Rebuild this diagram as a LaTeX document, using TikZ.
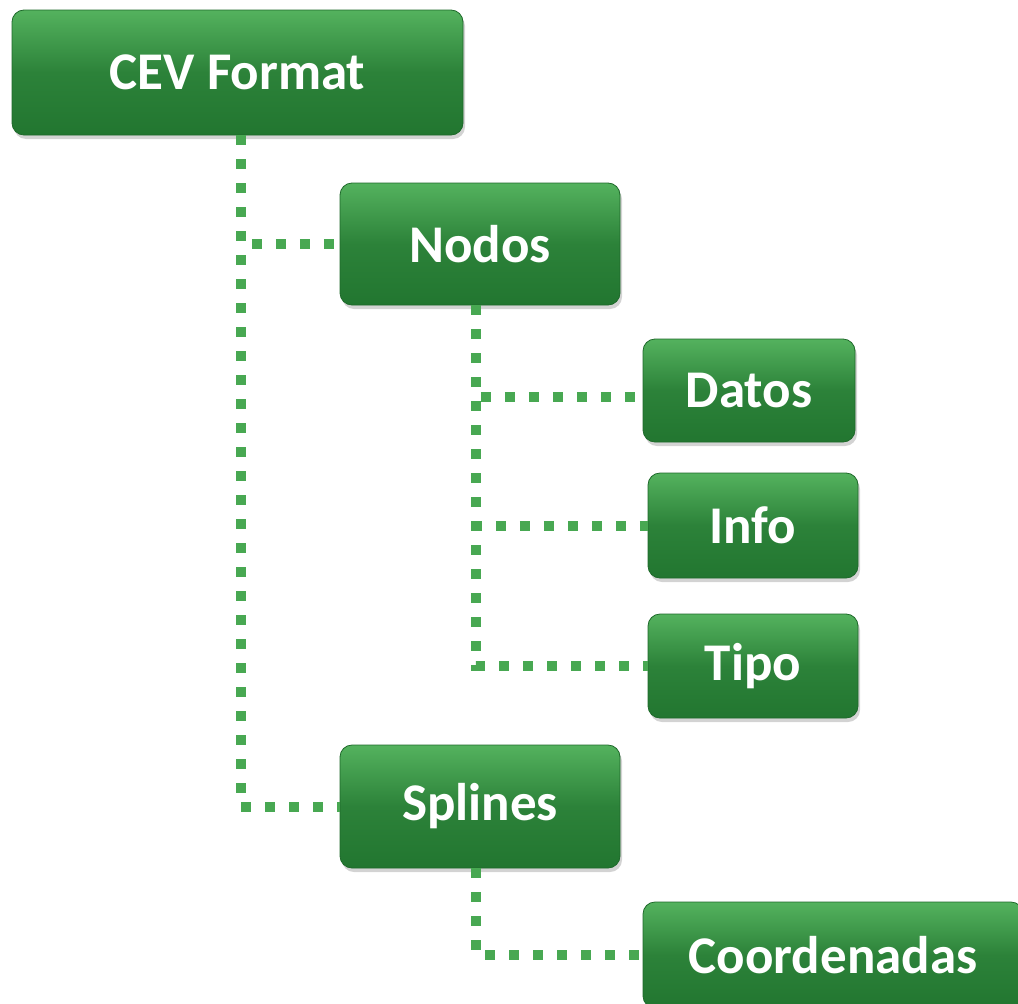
\documentclass[tikz,border=0pt]{standalone}
\usepackage{fontspec}
\setmainfont{Carlito}
\usetikzlibrary{shadows}
\definecolor{linkgreen}{RGB}{72,168,82}
\definecolor{boxtop}{RGB}{84,178,94}
\definecolor{boxbot}{RGB}{34,118,48}
\definecolor{boxedge}{RGB}{30,105,42}
\tikzset{
  tbox/.style={draw=boxedge, line width=0.8pt, rounded corners=12pt,
    top color=boxtop, bottom color=boxbot, middle color=boxbot!80!boxtop,
    drop shadow={opacity=0.35, shadow xshift=2pt, shadow yshift=-4pt},
    text=white, font=\fontsize{53}{58}\selectfont\bfseries, inner sep=0pt},
  conn/.style={draw=linkgreen, line width=10pt, dash pattern=on 10pt off 14pt}
}
\begin{document}
\begin{tikzpicture}[x=1pt, y=-1pt]
\useasboundingbox (0,0) rectangle (1018,1004);
% tree boxes
\node[tbox, minimum width=451pt, minimum height=125pt] (cev) at (237.5,72.5) {CEV Format};
\node[tbox, minimum width=280pt, minimum height=122pt] (nodos) at (480,244) {Nodos};
\node[tbox, minimum width=212pt, minimum height=103pt] (datos) at (749,390.5) {Datos};
\node[tbox, minimum width=210pt, minimum height=105pt] (info) at (753,525.5) {Info};
\node[tbox, minimum width=210pt, minimum height=104pt] (tipo) at (753,666) {Tipo};
\node[tbox, minimum width=280pt, minimum height=123pt] (splines) at (480,806.5) {Splines};
\node[tbox, minimum width=380pt, minimum height=106pt] (coord) at (833,955) {Coordenadas};
% dotted connectors
\draw[conn] ([xshift=3pt]cev.south) |- (nodos.west);
\draw[conn] ([xshift=3pt]cev.south) |- (splines.west);
\draw[conn] ([xshift=-4pt]nodos.south) |- ([yshift=-6pt]datos.west);
\draw[conn] ([xshift=-4pt]nodos.south) |- (info.west);
\draw[conn] ([xshift=-4pt]nodos.south) |- (tipo.west);
\draw[conn] ([xshift=-4pt]splines.south) |- (coord.west);
\end{tikzpicture}
\end{document}
